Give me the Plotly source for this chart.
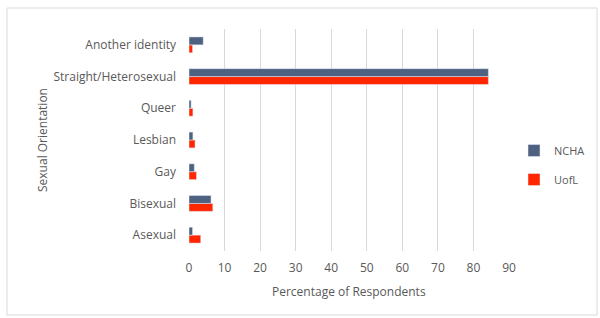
import plotly.graph_objects as go

categories = ["Asexual", "Bisexual", "Gay", "Lesbian", "Queer", "Straight/Heterosexual", "Another identity"]
ncha = [1.0, 6.2, 1.5, 1.1, 0.6, 84.2, 4.0]
uofl = [3.3, 6.7, 2.1, 1.7, 1.1, 84.2, 1.0]
x_ticks = [0, 10, 20, 30, 40, 50, 60, 70, 80, 90]

FONT = "Open Sans"
GREY = "#595959"

fig = go.Figure()
fig.add_trace(go.Bar(y=categories, x=uofl, name="UofL", orientation="h",
                     legendgroup="u", legendrank=2, marker=dict(color="#FF2600")))
fig.add_trace(go.Bar(y=categories, x=ncha, name="NCHA", orientation="h",
                     legendgroup="n", legendrank=1, marker=dict(color="#4F6180")))

L, R, T, B = 189, 91, 29, 67
pw, ph = 600 - L - R, 318 - T - B

fig.update_layout(
    width=600, height=318,
    margin=dict(l=L, r=R, t=T, b=B, autoexpand=False),
    paper_bgcolor="white", plot_bgcolor="white",
    barmode="group", bargap=0.5, bargroupgap=0,
    font=dict(family=FONT, size=12, color=GREY),
    showlegend=True,
    legend=dict(x=(514 - L) / pw, y=(251 - 165) / ph, xanchor="left", yanchor="middle",
                traceorder="grouped", font=dict(size=11, color=GREY),
                itemwidth=30, tracegroupgap=10, bgcolor="rgba(0,0,0,0)"),
    xaxis=dict(range=[0, 90], tickvals=x_ticks, showgrid=True, gridcolor="#d9d9d9",
               gridwidth=1, zeroline=False, showline=False, ticks="",
               ticklabelstandoff=8,
               automargin=False, tickfont=dict(size=12, color=GREY)),
    yaxis=dict(categoryorder="array", categoryarray=categories, showgrid=False,
               zeroline=False, showline=False, ticks="", ticklabelstandoff=12,
               automargin=False, tickfont=dict(size=12, color=GREY)),
    shapes=[dict(type="rect", xref="paper", yref="paper",
                 x0=(7 - L) / pw, x1=(597 - L) / pw,
                 y0=(251 - 315) / ph, y1=(251 - 8) / ph,
                 line=dict(color="#d9d9d9", width=1), fillcolor="rgba(0,0,0,0)")],
    annotations=[
        dict(text="Sexual Orientation", xref="paper", yref="paper",
             x=(42 - L) / pw, y=(251 - 140) / ph, textangle=-90, showarrow=False,
             xanchor="center", yanchor="middle", font=dict(size=12, color=GREY)),
        dict(text="Percentage of Respondents", xref="paper", yref="paper",
             x=(349 - L) / pw, y=(251 - 291) / ph, showarrow=False,
             xanchor="center", yanchor="middle", font=dict(size=12, color=GREY)),
    ],
)

fig.write_html("out.html", config={"displayModeBar": False},
               post_script="document.body.style.margin='0';")
